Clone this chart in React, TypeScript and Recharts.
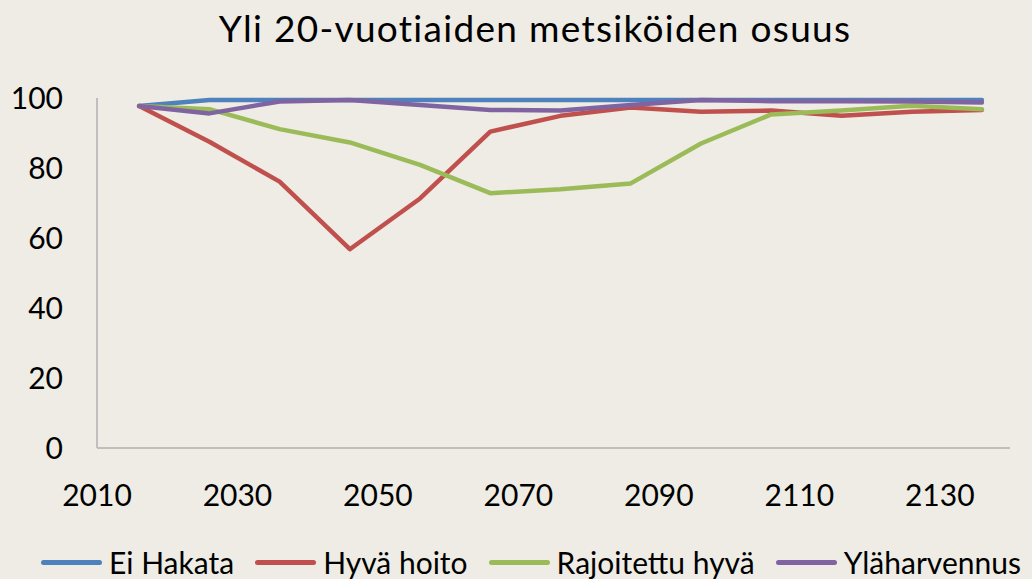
import React from 'react';
import { LineChart, Line, XAxis, YAxis } from 'recharts';

/* ================= DATA ================= */
const years = [2016, 2026, 2036, 2046, 2056, 2066, 2076, 2086, 2096, 2106, 2116, 2126, 2136];

const eiHakata = [97.7, 99.4, 99.4, 99.4, 99.4, 99.4, 99.4, 99.4, 99.4, 99.4, 99.4, 99.4, 99.4];
const hyvaHoito = [97.7, 87.5, 76.1, 56.8, 71.3, 90.4, 94.9, 97.3, 96.1, 96.4, 94.9, 96.1, 96.6];
const rajoitettuHyva = [97.7, 96.8, 91.1, 87.3, 80.9, 72.8, 73.9, 75.6, 87.0, 95.3, 96.4, 97.8, 96.8];
const ylaharvennus = [97.7, 95.6, 99.0, 99.4, 98.0, 96.6, 96.4, 98.0, 99.4, 99.1, 99.1, 99.0, 98.7];

const xTicks = [2010, 2030, 2050, 2070, 2090, 2110, 2130];
const yTicks = [0, 20, 40, 60, 80, 100];

const series = [
  { key: 'eiHakata', name: 'Ei Hakata', color: '#4F81BD', values: eiHakata },
  { key: 'hyvaHoito', name: 'Hyvä hoito', color: '#C0504D', values: hyvaHoito },
  { key: 'rajoitettuHyva', name: 'Rajoitettu hyvä', color: '#9BBB59', values: rajoitettuHyva },
  { key: 'ylaharvennus', name: 'Yläharvennus', color: '#8064A2', values: ylaharvennus },
];

const chartData = years.map((year, i) => {
  const row: Record<string, number> = { year };
  series.forEach((s) => {
    row[s.key] = s.values[i];
  });
  return row;
});

const FONT = 'Lato, "Liberation Sans", sans-serif';
const BG = '#EEECE4';

export default function App() {
  return (
    <div
      style={{
        position: 'absolute',
        left: 0,
        top: 0,
        width: 1032,
        height: 579,
        background: BG,
        fontFamily: FONT,
        overflow: 'hidden',
      }}
    >
      <div
        style={{
          position: 'absolute',
          top: 5,
          left: 0,
          width: 1070,
          textAlign: 'center',
          fontSize: 37,
          letterSpacing: 1.3,
          color: '#000',
        }}
      >
        Yli 20-vuotiaiden metsiköiden osuus
      </div>

      <LineChart
        width={1032}
        height={579}
        data={chartData}
        margin={{ top: 98, right: 22, bottom: 71, left: 0 }}
      >
        <XAxis
          dataKey="year"
          type="number"
          domain={[2010, 2140]}
          ticks={xTicks}
          allowDataOverflow
          height={60}
          tickLine={false}
          tickSize={0}
          tickMargin={37}
          axisLine={{ stroke: '#BFBFBF', strokeWidth: 2 }}
          tick={{ fill: '#000', fontSize: 30, fontFamily: FONT }}
        />
        <YAxis
          domain={[0, 100]}
          ticks={yTicks}
          width={97}
          tickLine={false}
          tickSize={0}
          tickMargin={34}
          axisLine={{ stroke: '#BFBFBF', strokeWidth: 2 }}
          tick={{ fill: '#000', fontSize: 30, fontFamily: FONT }}
        />
        {series.map((s) => (
          <Line
            key={s.key}
            type="linear"
            dataKey={s.key}
            name={s.name}
            stroke={s.color}
            strokeWidth={4.5}
            strokeLinejoin="round"
            strokeLinecap="round"
            dot={false}
            isAnimationActive={false}
          />
        ))}
      </LineChart>

      <div
        style={{
          position: 'absolute',
          top: 543,
          left: 0,
          width: 1062,
          display: 'flex',
          justifyContent: 'center',
          alignItems: 'center',
          fontSize: 30,
          color: '#000',
          lineHeight: '38px',
        }}
      >
        {series.map((s, i) => (
          <div
            key={s.key}
            style={{
              display: 'flex',
              alignItems: 'center',
              marginRight: i === series.length - 1 ? 0 : 21,
            }}
          >
            <span
              style={{
                display: 'inline-block',
                width: 61,
                height: 5,
                borderRadius: 3,
                background: s.color,
                marginRight: 7,
              }}
            />
            <span>{s.name}</span>
          </div>
        ))}
      </div>
    </div>
  );
}
